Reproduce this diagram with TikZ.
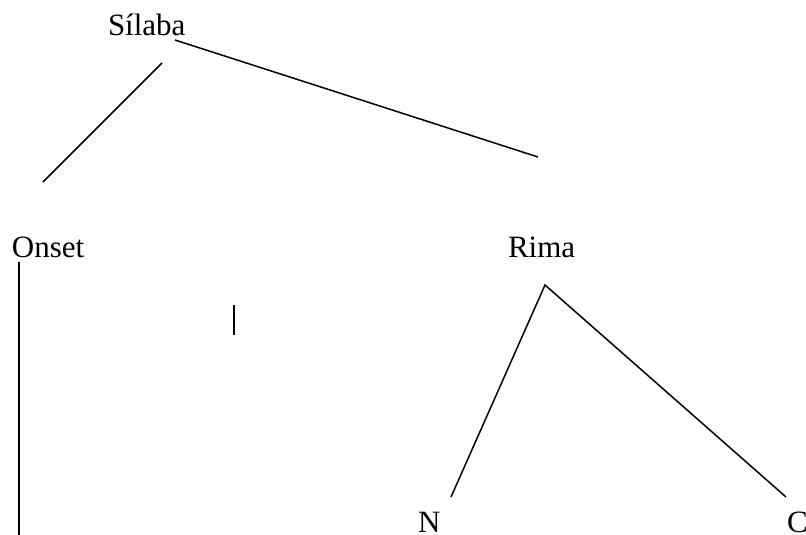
\documentclass[tikz,border=0pt]{standalone}
\usepackage{fontspec}
\setmainfont{Liberation Serif}
\usepackage{tikz}
\usetikzlibrary{positioning}

\begin{document}
\begin{tikzpicture}[x=1pt, y=-1pt, font=\fontsize{31}{37}\selectfont]
\tikzset{label/.style={anchor=base west, inner sep=0pt, outer sep=0pt}, branch/.style={draw=black, line width=1.5pt}}
\useasboundingbox (0,0) rectangle (806,535);
\node[label] (silaba) at (108,36) {Sílaba};
\node[label] (onset) at (12,257) {Onset};
\node[label] (rima) at (508,257) {Rima};
\node[label] (nuc) at (418,532) {N};
\node[label] (coda) at (787,532) {C};
% free ends of the branches
\foreach \name/\x/\y in {silA/162/63,onA/43/182,silB/175/40,riB/538/157,onTop/19/262,onBot/19/535,tickA/234/305,tickB/234/335,riTop/545/285,nucTop/451/497,codaTop/786/497} {
  \coordinate (\name) at (\x,\y);
}
\draw[branch] (silA) -- (onA);
\draw[branch] (silB) -- (riB);
\draw[branch] (onTop) -- (onBot);
\draw[branch] (tickA) -- (tickB);
\draw[branch] (nucTop) -- (riTop) -- (codaTop);
\end{tikzpicture}
\end{document}
